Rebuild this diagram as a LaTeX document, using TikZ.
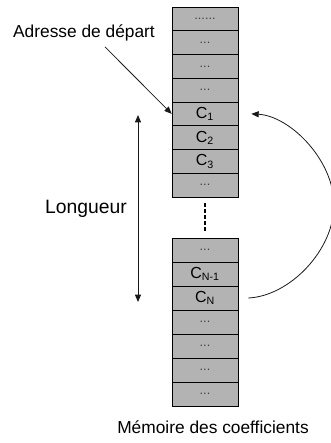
\documentclass[tikz,border=0pt]{standalone}
\usepackage{fontspec}
\setmainfont{Liberation Sans}
\usetikzlibrary{positioning, arrows.meta}
\definecolor{mFill}{HTML}{B3B3B3}
\definecolor{mInk}{HTML}{1A1A1A}
\definecolor{mDots}{HTML}{404040}
\newcommand{\memdots}[1]{{\fontsize{9.5}{10}\selectfont\color{mDots}#1}}

\begin{document}
\begin{tikzpicture}[x=0.75pt, y=-0.75pt,
  cell/.style={draw=black, fill=mFill, line width=0.5pt, minimum width=49.5pt, inner sep=0pt, font=\fontsize{12}{14}\selectfont},
  tip/.style={-{Triangle[length=5.5pt,width=4.5pt]}, draw=mInk, line width=0.6pt},
  lbl/.style={font=\fontsize{13}{15}\selectfont, inner sep=0pt}]
  \useasboundingbox (0,0) rectangle (331,443);
  % memory cells, upper block then lower block
  \foreach \t [count=\i] in {\memdots{......},\memdots{...},\memdots{...},\memdots{...},C\textsubscript{1},C\textsubscript{2},C\textsubscript{3},\memdots{...}}
    {\node[cell, minimum height=17.8pt] (u\i) at (205,{7+(\i-0.5)*23.75}) {\t};}
  \foreach \t [count=\i] in {\memdots{...},C\textsubscript{N-1},C\textsubscript{N},\memdots{...},\memdots{...},\memdots{...},\memdots{...}}
    {\node[cell, minimum height=18pt] (l\i) at (205,{238+(\i-0.5)*24}) {\t};}
  \draw[line width=2.2pt, dash pattern=on 2.6pt off 1.9pt, shorten <=4.5pt, shorten >=5pt] (u8) -- (l1);

  \node[lbl, anchor=base] (adr) at (84,37) {Adresse de départ};
  \draw[tip] ([xshift=15.75pt, yshift=-4.5pt]adr.south) -- (u5.west);

  \node[lbl, font=\fontsize{14.5}{17}\selectfont, anchor=base] (lg) at (86,213) {Longueur};
  \coordinate (lgtop) at (138,115);
  \coordinate (lgbot) at (138,302);
  \draw[tip, {Triangle[length=5.5pt,width=4.5pt]}-{Triangle[length=5.5pt,width=4.5pt]}] (lgtop) -- (lgbot);

  % loop back from the last coefficient to the first one
  \draw[tip] ([xshift=7.5pt]l3.east) .. controls (290,296) and (334,250) .. (334,205)
    .. controls (334,160) and (290,116) .. ([xshift=9.75pt]u5.east);

  \node[lbl, anchor=base] (mem) at (213,433) {Mémoire des coefficients};
\end{tikzpicture}
\end{document}
